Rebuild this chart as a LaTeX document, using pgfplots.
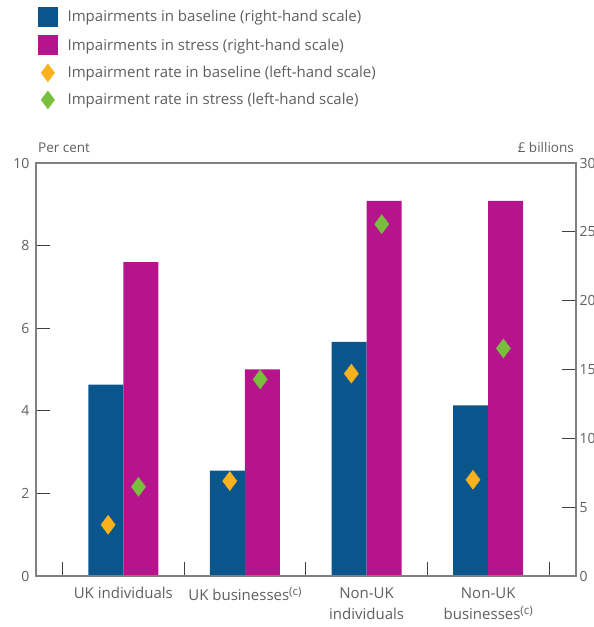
\documentclass[border=0pt]{standalone}
\usepackage{fontspec}
\setmainfont{Open Sans}
\usepackage{pgfplots}
\pgfplotsset{compat=1.18}

\definecolor{boeblue}{RGB}{8,86,140}
\definecolor{boemag}{RGB}{182,20,140}
\definecolor{boeorange}{RGB}{249,178,30}
\definecolor{boegreen}{RGB}{122,190,62}
\definecolor{txtgray}{RGB}{95,95,95}
\definecolor{framegray}{RGB}{128,128,128}

\newcommand{\note}[1]{\raisebox{0.55ex}{\fontsize{11.5}{12}\selectfont(#1)}}

\pgfplotsset{
  frameaxis/.style={
    at={(36pt,51pt)}, anchor=south west,
    scale only axis, width=540pt, height=413pt,
    xmin=0.282, xmax=4.722,
    axis line style={draw=framegray, line width=1.3pt},
    tick style={draw=black!75, line width=0.9pt},
    major tick length=14pt,
    tick label style={text=txtgray, font=\fontsize{14}{15}\selectfont},
    /pgf/number format/assume math mode=true,
    clip mode=individual,
  },
}

\begin{document}
\begin{tikzpicture}[x=1pt,y=1pt]
% Impairments (right-hand scale, £ billions)
\begin{axis}[frameaxis,
  ymin=0, ymax=30, ytick={0,5,...,30},
  ytick pos=right,
  yticklabel style={xshift=0pt},
  xtick={0.5,1.5,2.5,3.5,4.5}, xticklabels={},
  xtick pos=left,
]
\addplot[ybar, bar width=0.288, bar shift=-0.144, fill=boeblue, draw=none]
  coordinates {(1,13.9) (2,7.66) (3,17.0) (4,12.4)};
\addplot[ybar, bar width=0.288, bar shift=0.144, fill=boemag, draw=none]
  coordinates {(1,22.8) (2,15.0) (3,27.25) (4,27.25)};
\end{axis}

% Impairment rates (left-hand scale, per cent)
\begin{axis}[frameaxis,
  ymin=0, ymax=10, ytick={0,2,...,10},
  ytick pos=left,
  yticklabel style={xshift=-3pt},
  xtick={1,2,3,4},
  xticklabels={UK individuals, UK businesses\note{c}, Non-UK\\individuals, Non-UK\\businesses\note{c}},
  xticklabel style={align=center, font=\fontsize{15}{21}\selectfont, yshift=-8pt},
  xtick style={draw=none},
  legend cell align=left,
  legend style={draw=none, fill=none, inner sep=0pt,
    at={(rel axis cs:0.0037,1.378)}, anchor=north west,
    row sep=9pt, column sep=10pt,
    nodes={inner sep=0pt, text=txtgray},
    font=\fontsize{15}{16}\selectfont},
]
\addlegendimage{legend image code/.code={\fill[boeblue] (0pt,-9.5pt) rectangle (19pt,9.5pt);}}
\addlegendentry{Impairments in baseline (right-hand scale)}
\addlegendimage{legend image code/.code={\fill[boemag] (0pt,-9.5pt) rectangle (19pt,9.5pt);}}
\addlegendentry{Impairments in stress (right-hand scale)}
\addlegendimage{legend image code/.code={\draw[only marks, mark=diamond*, mark size=9pt, color=boeorange] plot coordinates {(9.5pt,0pt)};}}
\addlegendentry{Impairment rate in baseline (left-hand scale)}
\addlegendimage{legend image code/.code={\draw[only marks, mark=diamond*, mark size=9pt, color=boegreen] plot coordinates {(9.5pt,0pt)};}}
\addlegendentry{Impairment rate in stress (left-hand scale)}

\addplot[only marks, mark=diamond*, mark size=9.5pt, color=boeorange, forget plot]
  coordinates {(0.875,1.24) (1.875,2.30) (2.875,4.90) (3.875,2.33)};
\addplot[only marks, mark=diamond*, mark size=9.5pt, color=boegreen, forget plot]
  coordinates {(1.125,2.16) (2.125,4.76) (3.125,8.52) (4.125,5.51)};

\node[anchor=base west, inner sep=0pt, text=txtgray, font=\fontsize{13.5}{15}\selectfont]
  at (rel axis cs:0,1) [xshift=2pt, yshift=10pt] {Per cent};
\node[anchor=base east, inner sep=0pt, text=txtgray, font=\fontsize{13.5}{15}\selectfont]
  at (rel axis cs:1,1) [xshift=-2pt, yshift=10pt] {£ billions};
\end{axis}
\pgfresetboundingbox
\useasboundingbox (0,0) rectangle (594,627);
\end{tikzpicture}
\end{document}
